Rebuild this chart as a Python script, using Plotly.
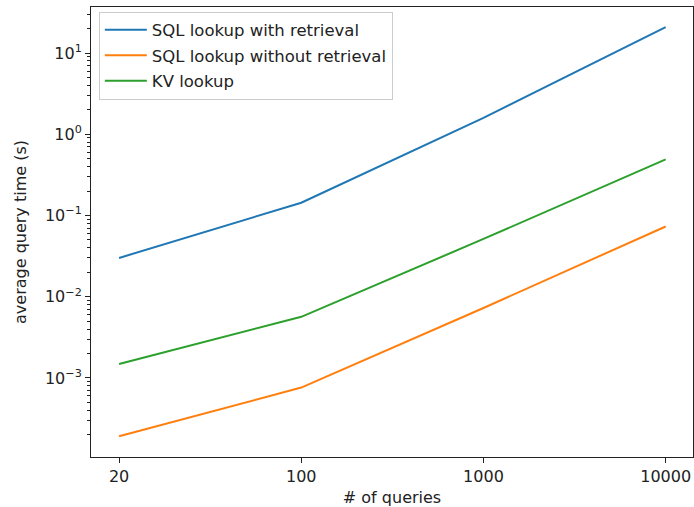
import plotly.graph_objects as go

queries = ["20", "100", "1000", "10000"]
sql_with_retrieval = [0.030, 0.1435, 1.59, 20.9]
sql_without_retrieval = [0.000191, 0.00076, 0.00726, 0.0732]
kv_lookup = [0.00148, 0.00565, 0.0514, 0.491]

major_vals = [1e-3, 1e-2, 1e-1, 1e0, 1e1]
major_text = ["10<sup>−3</sup>", "10<sup>−2</sup>", "10<sup>−1</sup>", "10<sup>0</sup>", "10<sup>1</sup>"]
minor_vals = [m * 10.0 ** e for e in range(-4, 2) for m in range(2, 10)]

font = "DejaVu Sans, sans-serif"
fig = go.Figure()
for i, (name, vals, color) in enumerate([
    ("SQL lookup with retrieval", sql_with_retrieval, "#1f77b4"),
    ("SQL lookup without retrieval", sql_without_retrieval, "#ff7f0e"),
    ("KV lookup", kv_lookup, "#2ca02c"),
]):
    fig.add_trace(go.Scatter(x=queries, y=vals, mode="lines", name=name,
                             legendgroup=f"g{i}",
                             line=dict(color=color, width=2)))

fig.update_layout(
    width=694, height=507,
    margin=dict(l=91, r=1, t=7, b=50, autoexpand=False),
    paper_bgcolor="white", plot_bgcolor="white",
    font=dict(family=font, size=16, color="#222"),
    showlegend=True,
    legend=dict(x=0.013, y=0.99, xanchor="left", yanchor="top",
                bordercolor="#cccccc", borderwidth=1, bgcolor="rgba(255,255,255,0.8)",
                font=dict(size=16.5), tracegroupgap=1, itemwidth=42),
)
fig.update_xaxes(
    type="category", range=[-0.154, 3.15],
    showline=True, linecolor="#222", linewidth=1, mirror=True,
    ticks="outside", ticklen=5, tickcolor="#222", showgrid=False, zeroline=False,
    title=dict(text="# of queries", standoff=9, font=dict(size=16)),
)
fig.update_yaxes(
    type="log", range=[-3.974, 1.567],
    showline=True, linecolor="#222", linewidth=1, mirror=True,
    ticks="outside", ticklen=5, tickcolor="#222", showgrid=False, zeroline=False,
    tickmode="array", tickvals=major_vals, ticktext=major_text,
    minor=dict(tickmode="array", tickvals=minor_vals, ticks="outside", ticklen=3, tickcolor="#222", showgrid=False),
    title=dict(text="average query time (s)", standoff=14, font=dict(size=16)),
)
fig.write_html("out.html", config={"displayModeBar": False},
               post_script="document.body.style.margin='0';")
